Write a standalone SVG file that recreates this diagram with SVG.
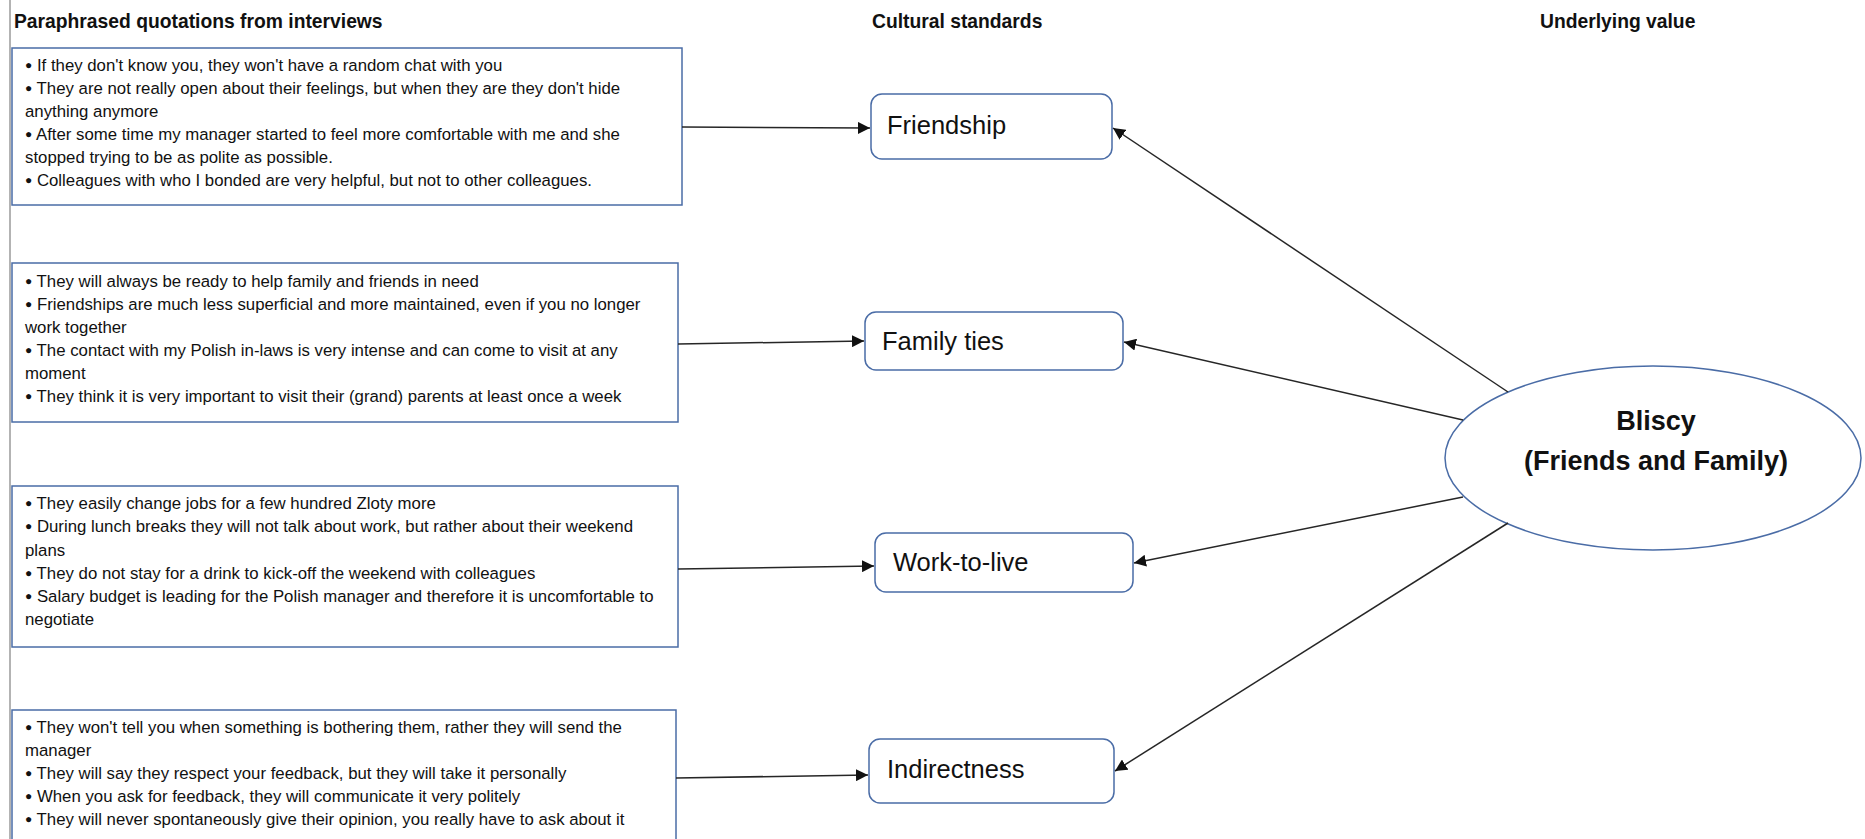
<svg xmlns="http://www.w3.org/2000/svg" width="1865" height="839" viewBox="0 0 1865 839">
<style>
.hdr{font-family:"Liberation Sans",Arial,sans-serif;font-weight:bold;font-size:19.3px;fill:#111}
.q{font-family:"Liberation Sans",Arial,sans-serif;font-size:16.8px;fill:#111}
.b{font-size:12px;baseline-shift:2.5px}
.qbox{fill:#fff;stroke:#4a6ca6;stroke-width:1.5}
.cs{fill:#fff;stroke:#4a6ca6;stroke-width:1.5}
.cst{font-family:"Liberation Sans",Arial,sans-serif;font-size:25.5px;fill:#111}
.val{font-family:"Liberation Sans",Arial,sans-serif;font-weight:bold;font-size:27px;fill:#111;text-anchor:middle}
.conn{stroke:#262626;stroke-width:1.5;fill:none;marker-end:url(#arr)}
</style>
<defs>
<marker id="arr" markerUnits="userSpaceOnUse" markerWidth="12" markerHeight="12" refX="12" refY="6" orient="auto">
<path d="M0,0 L12,6 L0,12 z" fill="#111"/>
</marker>
</defs>
<rect width="1865" height="839" fill="#fff"/>
<line x1="10" y1="0" x2="10" y2="839" stroke="#9a9a9a" stroke-width="1.5"/>
<g id="headers">
<text class="hdr" x="14" y="28">Paraphrased quotations from interviews</text>
<text class="hdr" x="872" y="28">Cultural standards</text>
<text class="hdr" x="1540" y="28">Underlying value</text>
</g>
<g id="quotes1">
<rect class="qbox" x="12" y="48" width="670" height="157"/>
<text class="q" x="25" y="71"><tspan class="b">●</tspan> If they don't know you, they won't have a random chat with you</text>
<text class="q" x="25" y="94"><tspan class="b">●</tspan> They are not really open about their feelings, but when they are they don't hide</text>
<text class="q" x="25" y="117">anything anymore</text>
<text class="q" x="25" y="140"><tspan class="b">●</tspan> After some time my manager started to feel more comfortable with me and she</text>
<text class="q" x="25" y="163">stopped trying to be as polite as possible.</text>
<text class="q" x="25" y="186"><tspan class="b">●</tspan> Colleagues with who I bonded are very helpful, but not to other colleagues.</text>
</g>
<g id="quotes2">
<rect class="qbox" x="12" y="263" width="666" height="159"/>
<text class="q" x="25" y="287"><tspan class="b">●</tspan> They will always be ready to help family and friends in need</text>
<text class="q" x="25" y="310"><tspan class="b">●</tspan> Friendships are much less superficial and more maintained, even if you no longer</text>
<text class="q" x="25" y="333">work together</text>
<text class="q" x="25" y="356"><tspan class="b">●</tspan> The contact with my Polish in-laws is very intense and can come to visit at any</text>
<text class="q" x="25" y="379">moment</text>
<text class="q" x="25" y="402"><tspan class="b">●</tspan> They think it is very important to visit their (grand) parents at least once a week</text>
</g>
<g id="quotes3">
<rect class="qbox" x="12" y="486" width="666" height="161"/>
<text class="q" x="25" y="509"><tspan class="b">●</tspan> They easily change jobs for a few hundred Zloty more</text>
<text class="q" x="25" y="532"><tspan class="b">●</tspan> During lunch breaks they will not talk about work, but rather about their weekend</text>
<text class="q" x="25" y="556">plans</text>
<text class="q" x="25" y="579"><tspan class="b">●</tspan> They do not stay for a drink to kick-off the weekend with colleagues</text>
<text class="q" x="25" y="602"><tspan class="b">●</tspan> Salary budget is leading for the Polish manager and therefore it is uncomfortable to</text>
<text class="q" x="25" y="625">negotiate</text>
</g>
<g id="quotes4">
<rect class="qbox" x="12" y="710" width="664" height="150"/>
<text class="q" x="25" y="733"><tspan class="b">●</tspan> They won't tell you when something is bothering them, rather they will send the</text>
<text class="q" x="25" y="756">manager</text>
<text class="q" x="25" y="779"><tspan class="b">●</tspan> They will say they respect your feedback, but they will take it personally</text>
<text class="q" x="25" y="802"><tspan class="b">●</tspan> When you ask for feedback, they will communicate it very politely</text>
<text class="q" x="25" y="825"><tspan class="b">●</tspan> They will never spontaneously give their opinion, you really have to ask about it</text>
</g>
<g id="friendship">
<rect class="cs" x="871" y="94" width="241" height="65" rx="11"/>
<text class="cst" x="887" y="134">Friendship</text>
</g>
<g id="familyties">
<rect class="cs" x="865" y="312" width="258" height="58" rx="11"/>
<text class="cst" x="882" y="350">Family ties</text>
</g>
<g id="worktolive">
<rect class="cs" x="875" y="533" width="258" height="59" rx="11"/>
<text class="cst" x="893" y="571">Work-to-live</text>
</g>
<g id="indirectness">
<rect class="cs" x="869" y="739" width="245" height="64" rx="11"/>
<text class="cst" x="887" y="778">Indirectness</text>
</g>
<g id="bliscy">
<ellipse cx="1653" cy="458" rx="208" ry="92" fill="#fff" stroke="#4a6ca6" stroke-width="1.5"/>
<text class="val" x="1656" y="430">Bliscy</text>
<text class="val" x="1656" y="470">(Friends and Family)</text>
</g>
<g id="connectors">
<path class="conn" d="M682,127 L870,128"/>
<path class="conn" d="M678,344 L864,341"/>
<path class="conn" d="M678,569 L874,566"/>
<path class="conn" d="M676,778 L868,775"/>
<path class="conn" d="M1508,392 L1113,128"/>
<path class="conn" d="M1463,420 L1124,342"/>
<path class="conn" d="M1463,497 L1134,563"/>
<path class="conn" d="M1508,523 L1115,771"/>
</g>
</svg>
